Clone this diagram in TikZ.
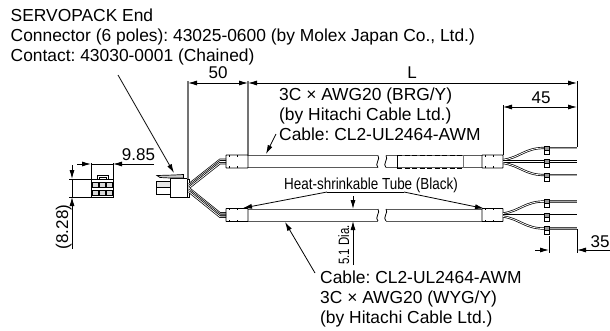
\documentclass[tikz,border=0pt]{standalone}
\usepackage{fontspec}
\setmainfont{Liberation Sans}
\usepackage{tikz}
\usetikzlibrary{positioning}
\usetikzlibrary{shapes,arrows,calc,arrows.meta}
\frenchspacing

\tikzset{
  dimtip/.style={-{Latex[length=9pt,width=5pt]}},
  dimline/.style={dimtip,line width=0.8pt},
  bothline/.style={{Latex[length=9pt,width=5pt]}-{Latex[length=9pt,width=5pt]},line width=0.8pt},
  extline/.style={line width=0.8pt},
  greyline/.style={line width=1.1pt,black!55},
  tubeline/.style={line width=1pt,black!65},
  shrink/.style={line width=0.9pt,rounded corners=0.6pt},
  wire/.style={line width=0.7pt,double=white,double distance=0.8pt},
  greywire/.style={line width=0.9pt,black!70,double=black!35,double distance=1pt},
  txt/.style={inner sep=0pt,font=\fontsize{17.4}{20}\selectfont,align=left},
  dimtxt/.style={inner sep=0pt,font=\fontsize{17}{19}\selectfont,anchor=base}
}

\begin{document}
\begin{tikzpicture}[x=1pt,y=-1pt]
  \useasboundingbox (0,0) rectangle (610,330);

  % Top note
  \node[txt,anchor=north west] (endnote) at (10.5,8.4) {SERVOPACK End\\Connector (6 poles): 43025-0600 (by Molex Japan Co., Ltd.)\\Contact: 43030-0001 (Chained)};
  \coordinate (endfrom) at (118,75);
  \coordinate (endtip) at (174,173);
  \draw[dimline] (endfrom) -- (endtip);

  % Small connector, front view
  \draw[line width=1pt] (91,179) rectangle (113,197);
  \draw[line width=0.8pt] (97,179) -- (97,175) -- (108,175) -- (108,179);
  \draw[line width=0.6pt] (99,179) -- (99,177) -- (106,177) -- (106,179);
  \foreach \cx in {92.5,99.5,106.5}
    \foreach \cy in {182,190}
      \draw[line width=0.5pt,fill=black!15] (\cx,\cy) rectangle +(5.5,5.5);

  % Dimension 9.85
  \draw[extline] (91,163) -- (91,179);
  \draw[extline] (113,163) -- (113,179);
  \coordinate (a) at (77,164);
  \coordinate (b) at (91,164);
  \coordinate (c) at (154,164);
  \coordinate (d) at (113,164);
  \draw[dimline] (a) -- (b);
  \draw[dimline] (c) -- (d);
  \draw[extline] (91,164) -- (113,164);
  \node[dimtxt] (w985) at (138.5,160) {9.85};

  % Dimension (8.28)
  \draw[extline] (69,179) -- (91,179);
  \draw[extline] (69,197) -- (91,197);
  \draw[extline] (72,179) -- (72,197);
  \coordinate (e) at (72,165);
  \coordinate (f) at (72,179);
  \coordinate (g) at (72,249);
  \coordinate (h) at (72,197);
  \draw[dimline] (e) -- (f);
  \draw[dimline] (g) -- (h);
  \node[dimtxt,rotate=90] (h828) at (68,227) {(8.28)};

  % Connector, side view
  \draw[line width=1pt] (156,181) rectangle (170,194);
  \draw[line width=0.7pt,fill=black!10] (156,187) rectangle (170,181);
  \draw[line width=1pt,fill=white] (170,178) rectangle (187,197);
  \draw[line width=1pt] (187,179) rectangle (189,197);
  \draw[line width=0.7pt,fill=black!20] (157,175.5) -- (174,175) -- (183.5,174.5) -- (183.5,178) -- (170,178) -- (160,177.5) -- cycle;

  % Wires from the connector to the two cables
  \foreach \s/\cy in {-1/161.5,1/215}{
    \foreach \o in {-1.7,0,1.7}{
      \draw[wire] (189,{188+\s*2+\o}) -- (220,{\cy+\o}) -- (226,{\cy+\o});
    }
  }

  % Dimension 50 and L
  \draw[greyline] (188,81) -- (188,179);
  \draw[greyline] (248,81) -- (248,155);
  \coordinate (p) at (188,83);
  \coordinate (q) at (248,83);
  \coordinate (r) at (577,83);
  \draw[bothline] (p) -- (q);
  \draw[bothline] (q) -- (r);
  \node[dimtxt] (len50) at (218,78) {50};
  \node[dimtxt] (lenL) at (412,78) {L};

  % Dimension 45
  \draw[extline] (503,105) -- (503,155);
  \draw[extline] (577,81) -- (577,147);
  \coordinate (s) at (503,107);
  \coordinate (t) at (577,107);
  \draw[bothline] (s) -- (t);
  \node[dimtxt] (len45) at (541,103) {45};

  % Both cables
  \foreach \cy in {161.5,215}{
    \draw[tubeline] (248,\cy-6) -- (378,\cy-6) (248,\cy+6) -- (378,\cy+6);
    \draw[tubeline] (386,\cy-6) -- (482,\cy-6) (386,\cy+6) -- (482,\cy+6);
    % Break marks
    \draw[line width=0.8pt] (378,\cy-6) .. controls (381,\cy-3) and (374,\cy+3) .. (378,\cy+6);
    \draw[line width=0.8pt] (386,\cy-6) .. controls (389,\cy-3) and (382,\cy+3) .. (386,\cy+6);
    % Heat-shrinkable ends
    \draw[shrink] (226,\cy-6.5) rectangle (248,\cy+6.5);
    \draw[shrink] (482,\cy-6.5) rectangle (503,\cy+6.5);
    \foreach \tx in {229,237,485,493}{
      \draw[line width=0.8pt] (\tx,\cy-6.5) -- +(0,1.6);
      \draw[line width=0.8pt] (\tx,\cy+6.5) -- +(0,-1.6);
    }
    % Wires and tags at the free end
    \draw[wire] (503,\cy-1.5) .. controls (520,\cy-4) and (525,\cy-13.5) .. (544,\cy-13.5);
    \draw[wire] (503,\cy) -- (544,\cy);
    \draw[wire] (503,\cy+1.5) .. controls (520,\cy+4) and (525,\cy+13.5) .. (544,\cy+13.5);
    \draw[greywire] (546,\cy-13.5) -- (577,\cy-13.5);
    \draw[wire] (546,\cy) -- (577,\cy);
    \draw[greywire] (546,\cy+13.5) -- (577,\cy+13.5);
    \foreach \o in {-13.5,0,13.5}{
      \draw[line width=0.7pt,fill=white] (544.5,\cy+\o-2) rectangle (549,\cy+\o+6);
      \draw[line width=0.7pt,fill=black!40] (544.5,\cy+\o-2) rectangle (549,\cy+\o+2);
    }
  }
  % Covered part of the upper cable
  \draw[line width=1pt,dashed,dash pattern=on 5pt off 2.5pt] (397,155) -- (463,155) (397,168) -- (463,168);
  \draw[line width=1pt] (397,155) -- (397,168);
  \draw[line width=1pt,black!55] (463,155) -- (463,168);

  % Upper cable note
  \node[txt,anchor=north west] (uppernote) at (279,87.8) {3C × AWG20 (BRG/Y)\\(by Hitachi Cable Ltd.)\\Cable: CL2-UL2464-AWM};
  \coordinate (upfrom) at (276,134);
  \coordinate (uptip) at (266,154);
  \draw[dimline] (upfrom) -- (uptip);

  % Heat-shrinkable tube label
  \node[inner sep=0pt,anchor=base,xscale=0.84,font=\fontsize{16}{18}\selectfont] (tubenote) at (371,189) {Heat-shrinkable Tube (Black)};
  \coordinate (tubeleft) at (327,192);
  \coordinate (tuberight) at (404,192);
  \coordinate (tubelefttip) at (243,208);
  \coordinate (tuberighttip) at (484,208.5);
  \draw[line width=0.8pt] (tubeleft) -- (tuberight);
  \draw[dimline] (tubeleft) -- (tubelefttip);
  \draw[dimline] (tuberight) -- (tuberighttip);

  % Dimension 5.1 Dia.
  \coordinate (u) at (353,196);
  \coordinate (v) at (353,209);
  \coordinate (w) at (353,265);
  \coordinate (z) at (353,221);
  \draw[dimline] (u) -- (v);
  \draw[dimline] (w) -- (z);
  \node[inner sep=0pt,anchor=base,rotate=90,xscale=0.76,font=\fontsize{15}{16}\selectfont] (diam) at (349,245) {5.1 Dia.};

  % Lower cable note
  \node[txt,anchor=north west] (lowernote) at (320,270.5) {Cable: CL2-UL2464-AWM\\3C × AWG20 (WYG/Y)\\(by Hitachi Cable Ltd.)};
  \coordinate (lowfrom) at (315,273);
  \coordinate (lowtip) at (285,222);
  \draw[dimline] (lowfrom) -- (lowtip);

  % Dimension 35
  \draw[extline] (549,236) -- (549,253);
  \draw[extline] (577,229) -- (577,253);
  \coordinate (m) at (535,250);
  \coordinate (n) at (549,250);
  \coordinate (o) at (610,250);
  \coordinate (k) at (577,250);
  \draw[dimline] (m) -- (n);
  \draw[dimline] (o) -- (k);
  \node[dimtxt] (len35) at (600,247) {35};
\end{tikzpicture}
\end{document}
